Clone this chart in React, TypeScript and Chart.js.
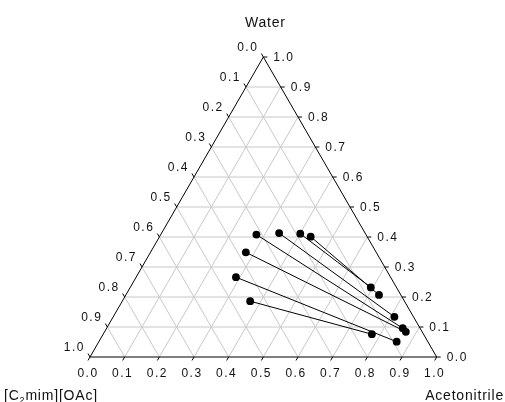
import React, { useEffect, useRef } from "react";
import { Chart, registerables } from "chart.js";

Chart.register(...registerables);

// Ternary components (vertices)
const componentBottomLeft = "[C₂mim][OAc]";
const componentTop = "Water";
const componentBottomRight = "Acetonitrile";

// Tick values and labels (mass fractions)
const tickValues = [0, 0.1, 0.2, 0.3, 0.4, 0.5, 0.6, 0.7, 0.8, 0.9, 1.0];
const tickLabels = ["0.0", "0.1", "0.2", "0.3", "0.4", "0.5", "0.6", "0.7", "0.8", "0.9", "1.0"];
const gridSteps = [0.1, 0.2, 0.3, 0.4, 0.5, 0.6, 0.7, 0.8, 0.9];

// Tie lines: IL-rich phase (left end) and acetonitrile-rich phase (right end)
const ilRichWater = [0.408, 0.413, 0.411, 0.401, 0.349, 0.266, 0.186];
const ilRichAcetonitrile = [0.276, 0.339, 0.401, 0.436, 0.275, 0.288, 0.369];
const acnRichWater = [0.096, 0.134, 0.232, 0.207, 0.084, 0.051, 0.076];
const acnRichAcetonitrile = [0.854, 0.811, 0.694, 0.730, 0.869, 0.859, 0.775];

const SQ = Math.sqrt(3) / 2;
const toXY = (acn: number, water: number) => ({ x: acn + water / 2, y: water * SQ });

const FONT = '"Liberation Sans", Arial, sans-serif';

const ternaryPlugin = {
  id: "ternary",
  beforeDatasetsDraw(chart: any) {
    const { ctx, scales } = chart;
    const xs = scales.x;
    const ys = scales.y;
    const P = (acn: number, water: number): [number, number] => [
      xs.getPixelForValue(acn + water / 2),
      ys.getPixelForValue(water * SQ),
    ];
    const line = (p: [number, number], q: [number, number]) => {
      ctx.beginPath();
      ctx.moveTo(p[0], p[1]);
      ctx.lineTo(q[0], q[1]);
      ctx.stroke();
    };
    ctx.save();
    // grid
    ctx.strokeStyle = "#c8c8c8";
    ctx.lineWidth = 1;
    gridSteps.forEach((k) => {
      line(P(0, k), P(1 - k, k)); // constant water
      line(P(k, 0), P(k, 1 - k)); // constant acetonitrile
      line(P(1 - k, 0), P(0, 1 - k)); // constant IL
    });
    // triangle border
    ctx.strokeStyle = "#000";
    ctx.beginPath();
    const a = P(0, 0), b = P(1, 0), c = P(0, 1);
    ctx.moveTo(a[0], a[1]);
    ctx.lineTo(b[0], b[1]);
    ctx.lineTo(c[0], c[1]);
    ctx.closePath();
    ctx.stroke();

    // ticks and labels
    const L = 4;
    ctx.fillStyle = "#111";
    ctx.font = `12px ${FONT}`;
    (ctx as any).letterSpacing = "1.5px";
    tickValues.forEach((t, i) => {
      const lab = tickLabels[i];
      // bottom axis: acetonitrile
      const pb = P(t, 0);
      line(pb, [pb[0] - 0.5 * L, pb[1] + SQ * L]);
      ctx.textAlign = "center";
      ctx.textBaseline = "middle";
      ctx.fillText(lab, pb[0] - 2, pb[1] + 17);
      // right axis: water
      const pr = P(1 - t, t);
      line(pr, [pr[0] + L, pr[1]]);
      ctx.textAlign = "left";
      ctx.fillText(lab, pr[0] + 10, pr[1] + 0.5);
      // left axis: IL
      const pl = P(0, 1 - t);
      line(pl, [pl[0] - 0.5 * L, pl[1] - SQ * L]);
      ctx.textAlign = "right";
      ctx.fillText(lab, pl[0] - 5, pl[1] - 9);
    });

    // axis titles
    ctx.font = `14px ${FONT}`;
    (ctx as any).letterSpacing = "0.8px";
    ctx.textBaseline = "alphabetic";
    ctx.textAlign = "center";
    ctx.fillText(componentTop, c[0] + 2, 27);
    ctx.textAlign = "right";
    ctx.fillText(componentBottomRight, 504, 400);
    // bottom-left title with subscript
    ctx.textAlign = "left";
    const parts = componentBottomLeft.split("₂");
    let xPos = 4;
    ctx.fillText(parts[0], xPos, 400);
    xPos += ctx.measureText(parts[0]).width;
    ctx.font = `9px ${FONT}`;
    ctx.fillText("2", xPos, 403);
    xPos += ctx.measureText("2").width;
    ctx.font = `14px ${FONT}`;
    ctx.fillText(parts[1], xPos, 400);
    (ctx as any).letterSpacing = "0px";
    ctx.restore();
  },
};

export default function App() {
  const canvasRef = useRef<HTMLCanvasElement | null>(null);

  useEffect(() => {
    if (!canvasRef.current) return;
    const datasets = ilRichWater.map((_, i) => ({
      label: `Tie line ${i + 1}`,
      data: [
        toXY(ilRichAcetonitrile[i], ilRichWater[i]),
        toXY(acnRichAcetonitrile[i], acnRichWater[i]),
      ],
      showLine: true,
      borderColor: "#000",
      borderWidth: 1,
      pointRadius: 3.9,
      pointBackgroundColor: "#000",
      pointBorderColor: "#000",
      pointBorderWidth: 0,
    }));
    const chart = new Chart(canvasRef.current, {
      type: "scatter",
      data: { datasets },
      options: {
        animation: false,
        responsive: false,
        devicePixelRatio: 1,
        layout: { padding: { left: 90, right: 68.3, top: 57, bottom: 45 } },
        plugins: { legend: { display: false }, tooltip: { enabled: false }, title: { display: false } },
        scales: {
          x: { type: "linear", min: 0, max: 1, display: false },
          y: { type: "linear", min: 0, max: SQ, display: false },
        },
      },
      plugins: [ternaryPlugin],
    } as any);
    return () => chart.destroy();
  }, []);

  return (
    <div style={{ position: "absolute", left: 0, top: 0, width: 505, height: 402, background: "#fff" }}>
      <canvas ref={canvasRef} width={505} height={402} style={{ width: 505, height: 402, display: "block" }} />
    </div>
  );
}
